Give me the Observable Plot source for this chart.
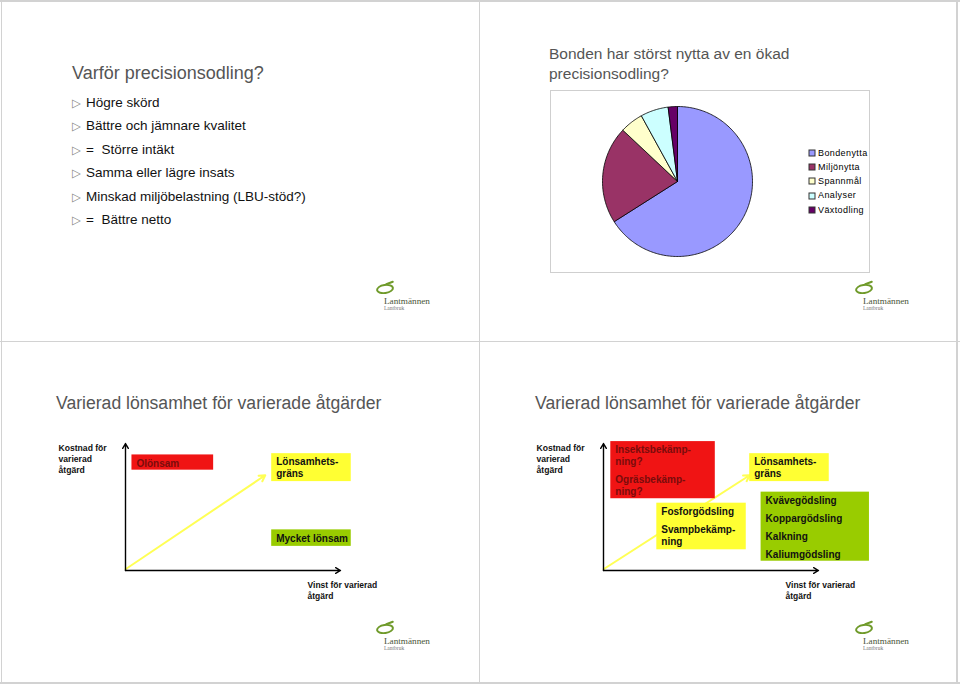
<!DOCTYPE html>
<html><head><meta charset="utf-8">
<script src="https://cdn.jsdelivr.net/npm/d3@7"></script>
<script src="https://cdn.jsdelivr.net/npm/@observablehq/plot@0.6"></script>
<style>
html,body{margin:0;padding:0;background:#fff;}
#page{position:relative;width:960px;height:684px;overflow:hidden;background:#fff;font-family:"Liberation Sans",Arial,sans-serif;}
#page > *{position:absolute;}
.rule{background:#d2d2d2;}
.title{color:#555;white-space:nowrap;line-height:20px;}
.bullet{font-size:13.5px;color:#111;white-space:pre;line-height:20px;}
.tri{display:inline-block;width:14px;font-size:11.5px;color:#888;font-family:"DejaVu Sans",sans-serif;vertical-align:0px;}
#page .pie-swatches{font-family:"Liberation Sans",Arial,sans-serif;font-size:9px;letter-spacing:0.4px;color:#000;margin:0;}
#page .pie-swatch{line-height:14.3px;padding-bottom:0;display:flex;align-items:center;}
#page .pie-swatch > svg{margin-right:3px;overflow:visible;}
#page .pie-swatch rect{stroke:#333;stroke-width:1;}
.logo-ring{border:2.5px solid #6f9a2a;border-radius:50%;box-sizing:border-box;transform:rotate(-8deg);}
.logo-text{font-family:"Liberation Serif",serif;color:#4a5538;white-space:nowrap;line-height:1;}
</style></head>
<body><div id="page"></div>
<script>
// ---------- DATA ----------
const slide1Title = "Varför precisionsodling?";
const slide1Bullets = ["Högre skörd", "Bättre och jämnare kvalitet", "=  Större intäkt", "Samma eller lägre insats", "Minskad miljöbelastning (LBU-stöd?)", "=  Bättre netto"];

const slide2TitleLines = ["Bonden har störst nytta av en ökad", "precisionsodling?"];
const pieLabels = ["Bondenytta", "Miljönytta", "Spannmål", "Analyser", "Växtodling"];
const pieValues = [66, 21, 5, 6, 2];

const slide34Title = "Varierad lönsamhet för varierade åtgärder";
const yAxisLabel = ["Kostnad för", "varierad", "åtgärd"];
const xAxisLabel = ["Vinst för varierad", "åtgärd"];

// left quadrant chart (profit x, cost y, 0–100 concept units)
const leftKinds = ["olönsam", "gräns", "lönsam"];
const leftX1 = [3, 68, 68];
const leftX2 = [41, 105, 105];
const leftY1 = [79, 70, 19];
const leftY2 = [91, 92, 32];
const leftTexts = [["Olönsam"], ["Lönsamhets-\ngräns"], ["Mycket lönsam"]];
const leftLimitEnd = [65, 75];

// right quadrant chart
const rightKinds = ["olönsam", "gräns", "gräns", "lönsam"];
const rightX1 = [3.4, 68, 24.8, 73.3];
const rightX2 = [52, 105, 66.4, 123.7];
const rightY1 = [56.5, 70, 16.3, 7.3];
const rightY2 = [101.5, 92, 53, 61.7];
const rightTexts = [["Insektsbekämp-\nning?", "Ogräsbekämp-\nning?"], ["Lönsamhets-\ngräns"], ["Fosforgödsling", "Svampbekämp-\nning"], ["Kvävegödsling", "Koppargödsling", "Kalkning", "Kaliumgödsling"]];
const rightLimitEnd = [68, 75];

const logoName = "Lantmännen";
const logoSub = "Lantbruk";

// ---------- STYLE ----------
const pieColors = ["#9999FF", "#993366", "#FFFFCC", "#CCFFFF", "#660066"];
const kindFill = {"olönsam": "#F01414", "gräns": "#FFFF33", "lönsam": "#99CC00"};
const kindText = {"olönsam": "#7a0c0c", "gräns": "#111", "lönsam": "#111"};
const FONT = "'Liberation Sans', Arial, sans-serif";

const page = document.getElementById("page");
function el(cls, style, html) {
  const e = document.createElement("div");
  if (cls) e.className = cls;
  Object.assign(e.style, style);
  if (html != null) e.innerHTML = html;
  page.appendChild(e);
  return e;
}
function place(node, left, top) {
  node.style.position = "absolute";
  node.style.left = left + "px";
  node.style.top = top + "px";
  page.appendChild(node);
}

// ---------- PAGE FRAME ----------
el("rule", {left: "0px", top: "0px", width: "960px", height: "1.5px"});
el("rule", {left: "0px", top: "681.5px", width: "960px", height: "2px"});
el("rule", {left: "0.5px", top: "0px", width: "1.5px", height: "684px"});
el("rule", {left: "956px", top: "0px", width: "1.5px", height: "684px"});
el("rule", {left: "478.5px", top: "0px", width: "1.5px", height: "684px"});
el("rule", {left: "0px", top: "340.8px", width: "960px", height: "1.5px"});

// ---------- SLIDE 1 ----------
el("title", {left: "72px", top: "63px", fontSize: "18px"}, slide1Title);
slide1Bullets.forEach((t, i) => {
  el("bullet", {left: "72px", top: (93 + i * 23.4) + "px"}, `<span class="tri">▷</span>${t}`);
});

// ---------- SLIDE 2 ----------
el("title", {left: "549px", top: "44px", fontSize: "15.5px", lineHeight: "19.5px"}, slide2TitleLines.join("<br>"));
el("", {left: "550px", top: "90px", width: "320px", height: "183px", border: "1px solid #cfcfcf", boxSizing: "border-box"});

const arcs = d3.pie().sort(null).value((d, i) => pieValues[i])(pieLabels);
const piePts = arcs.flatMap((a, i) => {
  const n = Math.max(3, Math.ceil((a.endAngle - a.startAngle) / 0.02));
  const pts = [{name: pieLabels[i], x: 0, y: 0}];
  for (let k = 0; k <= n; k++) {
    const t = a.startAngle + (a.endAngle - a.startAngle) * k / n;
    pts.push({name: pieLabels[i], x: Math.sin(t), y: Math.cos(t)});
  }
  pts.push({name: pieLabels[i], x: 0, y: 0});
  return pts;
});
const pie = Plot.plot({
  width: 320, height: 183,
  marginLeft: 52, marginRight: 118, marginTop: 16, marginBottom: 17,
  x: {domain: [-1, 1], axis: null},
  y: {domain: [-1, 1], axis: null},
  color: {domain: pieLabels, range: pieColors},
  style: {background: "transparent", fontFamily: FONT},
  marks: [
    Plot.line(piePts, {x: "x", y: "y", z: "name", fill: "name", stroke: "#000", strokeWidth: 0.8, curve: "linear"})
  ]
});
place(pie, 550, 90);
const legend = Plot.legend({color: {domain: pieLabels, range: pieColors}, legend: "swatches", columns: 1, swatchSize: 6, className: "pie"});
place(legend, 809, 145.6);

// ---------- SLIDES 3 & 4 ----------
el("title", {left: "56px", top: "393px", fontSize: "17.6px"}, slide34Title);
el("title", {left: "535px", top: "393px", fontSize: "17.6px"}, slide34Title);

function quadPlot(kinds, X1, X2, Y1, Y2, texts, limitEnd, marginLeft) {
  const boxes = kinds.map((k, i) => ({kind: k, x1: X1[i], x2: X2[i], y1: Y1[i], y2: Y2[i]}));
  const lines = [];
  boxes.forEach((b, i) => {
    let off = 8.5;
    texts[i].forEach(p => {
      p.split("\n").forEach(t => { lines.push({x: b.x1, y: b.y2, text: t, off, kind: b.kind}); off += 12; });
      off += 6;
    });
  });
  return Plot.plot({
    width: 480, height: 180,
    marginLeft, marginRight: 480 - marginLeft - 215, marginTop: 13, marginBottom: 40,
    x: {domain: [0, 100], axis: null},
    y: {domain: [0, 100], axis: null},
    style: {background: "transparent", fontFamily: FONT, overflow: "visible"},
    marks: [
      Plot.arrow([{x1: 0, y1: 1, x2: limitEnd[0], y2: limitEnd[1]}], {x1: "x1", y1: "y1", x2: "x2", y2: "y2", stroke: "#FFFF55", strokeWidth: 2, headLength: 5}),
      ...boxes.map(b => Plot.rect([b], {x1: "x1", x2: "x2", y1: "y1", y2: "y2", fill: kindFill[b.kind]})),
      ...lines.map(l => Plot.text([l], {x: "x", y: "y", text: "text", dx: 4.5, dy: l.off, textAnchor: "start", lineAnchor: "middle", fontSize: 10, fontWeight: "bold", fill: kindText[l.kind]})),
      Plot.arrow([{x1: 0, y1: 0, x2: 100, y2: 0}, {x1: 0, y1: 0, x2: 0, y2: 100}], {x1: "x1", y1: "y1", x2: "x2", y2: "y2", stroke: "#000", strokeWidth: 1.4, headLength: 6}),
      Plot.text([yAxisLabel.join("\n")], {text: d => d, frameAnchor: "top-left", dx: -67, dy: -0.5, textAnchor: "start", lineAnchor: "top", lineHeight: 1.28, fontSize: 8.6, fontWeight: "bold", fill: "#111"}),
      Plot.text([xAxisLabel.join("\n")], {text: d => d, frameAnchor: "bottom-left", dx: 182, dy: 10.3, textAnchor: "start", lineAnchor: "top", lineHeight: 1.22, fontSize: 8.5, fontWeight: "bold", fill: "#111"})
    ]
  });
}
place(quadPlot(leftKinds, leftX1, leftX2, leftY1, leftY2, leftTexts, leftLimitEnd, 125), 0, 430);
place(quadPlot(rightKinds, rightX1, rightX2, rightY1, rightY2, rightTexts, rightLimitEnd, 123), 480, 430);

// ---------- LOGOS ----------
[[376, 283], [855, 283], [376, 623], [855, 623]].forEach(([x, y]) => {
  el("logo-ring", {left: x + "px", top: (y + 1) + "px", width: "18px", height: "10px"});
  el("", {left: (x + 9) + "px", top: (y - 1) + "px", width: "9px", height: "2px", background: "#6f9a2a", borderRadius: "2px", transform: "rotate(-20deg)"});
  el("logo-text", {left: (x + 8) + "px", top: (y + 14) + "px", fontSize: "9.2px"}, logoName);
  el("logo-text", {left: (x + 8) + "px", top: (y + 23) + "px", fontSize: "5.5px", color: "#777"}, logoSub);
});
</script>
</body></html>
